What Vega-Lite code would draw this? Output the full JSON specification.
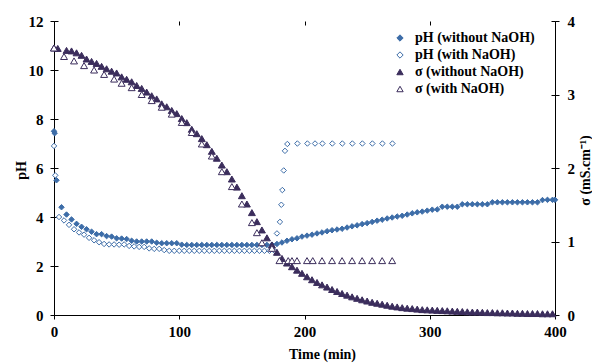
{
"$schema": "https://vega.github.io/schema/vega-lite/v6.json",
"width": 501, "height": 294,
"autosize": {"type": "none"},
"padding": {"left": 54, "top": 21, "right": 37, "bottom": 48},
"background": "white",
"config": {
 "view": {"stroke": null},
 "font": "Liberation Serif",
 "axis": {"grid": false, "domainColor": "#000000", "domainWidth": 1, "tickColor": "#000000", "tickSize": 4, "labelFont": "Liberation Serif", "labelFontWeight": "bold", "labelFontSize": 15, "labelColor": "#000000", "titleFont": "Liberation Serif", "titleFontWeight": "bold", "titleFontSize": 14, "titleColor": "#000000"},
 "legend": {"orient": "none", "legendX": 339, "legendY": 10, "padding": 0, "rowPadding": 3, "symbolSize": 40, "symbolStrokeWidth": 1, "labelOffset": 8, "labelFont": "Liberation Serif", "labelFontWeight": "bold", "labelFontSize": 14, "labelColor": "#000000"}
},
"data": {"values": [
{"s":"A","t":0,"v":7.5},{"s":"A","t":0.5,"v":7.42},{"s":"A","t":2,"v":5.5},{"s":"A","t":6,"v":4.4},{"s":"A","t":10,"v":4.1},{"s":"A","t":14,"v":3.9},{"s":"A","t":18,"v":3.72},{"s":"A","t":22,"v":3.6},{"s":"A","t":26,"v":3.5},{"s":"A","t":30,"v":3.4},{"s":"A","t":34,"v":3.3},{"s":"A","t":38,"v":3.3},{"s":"A","t":42,"v":3.22},{"s":"A","t":46,"v":3.2},{"s":"A","t":50,"v":3.13},{"s":"A","t":54,"v":3.12},{"s":"A","t":58,"v":3.1},{"s":"A","t":62,"v":3.03},{"s":"A","t":66,"v":3.0},{"s":"A","t":70,"v":3.0},{"s":"A","t":74,"v":3.0},{"s":"A","t":78,"v":3.0},{"s":"A","t":82,"v":2.95},{"s":"A","t":86,"v":2.93},{"s":"A","t":90,"v":2.93},{"s":"A","t":94,"v":2.93},{"s":"A","t":98,"v":2.93},{"s":"A","t":102,"v":2.87},{"s":"A","t":106,"v":2.86},{"s":"A","t":110,"v":2.86},{"s":"A","t":114,"v":2.86},{"s":"A","t":118,"v":2.86},{"s":"A","t":122,"v":2.86},{"s":"A","t":126,"v":2.86},{"s":"A","t":130,"v":2.86},{"s":"A","t":134,"v":2.86},{"s":"A","t":138,"v":2.86},{"s":"A","t":142,"v":2.86},{"s":"A","t":146,"v":2.86},{"s":"A","t":150,"v":2.86},{"s":"A","t":154,"v":2.86},{"s":"A","t":158,"v":2.86},{"s":"A","t":162,"v":2.86},{"s":"A","t":166,"v":2.86},{"s":"A","t":170,"v":2.86},{"s":"A","t":174,"v":2.87},{"s":"A","t":178,"v":2.9},{"s":"A","t":182,"v":2.96},{"s":"A","t":186,"v":3.03},{"s":"A","t":190,"v":3.09},{"s":"A","t":194,"v":3.13},{"s":"A","t":198,"v":3.2},{"s":"A","t":202,"v":3.24},{"s":"A","t":206,"v":3.28},{"s":"A","t":210,"v":3.33},{"s":"A","t":214,"v":3.37},{"s":"A","t":218,"v":3.42},{"s":"A","t":222,"v":3.46},{"s":"A","t":226,"v":3.49},{"s":"A","t":230,"v":3.52},{"s":"A","t":234,"v":3.57},{"s":"A","t":238,"v":3.62},{"s":"A","t":242,"v":3.66},{"s":"A","t":246,"v":3.71},{"s":"A","t":250,"v":3.75},{"s":"A","t":254,"v":3.8},{"s":"A","t":258,"v":3.85},{"s":"A","t":262,"v":3.89},{"s":"A","t":266,"v":3.94},{"s":"A","t":270,"v":3.98},{"s":"A","t":274,"v":4.02},{"s":"A","t":278,"v":4.05},{"s":"A","t":282,"v":4.1},{"s":"A","t":286,"v":4.15},{"s":"A","t":290,"v":4.19},{"s":"A","t":294,"v":4.22},{"s":"A","t":298,"v":4.26},{"s":"A","t":302,"v":4.3},{"s":"A","t":306,"v":4.31},{"s":"A","t":310,"v":4.42},{"s":"A","t":314,"v":4.42},{"s":"A","t":318,"v":4.42},{"s":"A","t":322,"v":4.42},{"s":"A","t":326,"v":4.52},{"s":"A","t":330,"v":4.52},{"s":"A","t":334,"v":4.52},{"s":"A","t":338,"v":4.52},{"s":"A","t":342,"v":4.52},{"s":"A","t":346,"v":4.52},{"s":"A","t":350,"v":4.6},{"s":"A","t":354,"v":4.6},{"s":"A","t":358,"v":4.6},{"s":"A","t":362,"v":4.6},{"s":"A","t":366,"v":4.6},{"s":"A","t":370,"v":4.6},{"s":"A","t":374,"v":4.6},{"s":"A","t":378,"v":4.6},{"s":"A","t":382,"v":4.6},{"s":"A","t":386,"v":4.6},{"s":"A","t":390,"v":4.69},{"s":"A","t":394,"v":4.7},{"s":"A","t":398,"v":4.7},{"s":"A","t":400,"v":4.7},
{"s":"B","t":0,"v":6.9},{"s":"B","t":1,"v":5.7},{"s":"B","t":4,"v":4.0},{"s":"B","t":8,"v":3.86},{"s":"B","t":12,"v":3.68},{"s":"B","t":16,"v":3.5},{"s":"B","t":20,"v":3.37},{"s":"B","t":24,"v":3.28},{"s":"B","t":28,"v":3.15},{"s":"B","t":32,"v":3.05},{"s":"B","t":36,"v":2.97},{"s":"B","t":40,"v":2.9},{"s":"B","t":44,"v":2.88},{"s":"B","t":48,"v":2.88},{"s":"B","t":52,"v":2.87},{"s":"B","t":56,"v":2.88},{"s":"B","t":60,"v":2.82},{"s":"B","t":64,"v":2.8},{"s":"B","t":68,"v":2.78},{"s":"B","t":72,"v":2.78},{"s":"B","t":76,"v":2.72},{"s":"B","t":80,"v":2.7},{"s":"B","t":84,"v":2.7},{"s":"B","t":88,"v":2.65},{"s":"B","t":92,"v":2.62},{"s":"B","t":96,"v":2.62},{"s":"B","t":100,"v":2.62},{"s":"B","t":104,"v":2.62},{"s":"B","t":108,"v":2.62},{"s":"B","t":112,"v":2.62},{"s":"B","t":116,"v":2.62},{"s":"B","t":120,"v":2.62},{"s":"B","t":124,"v":2.62},{"s":"B","t":128,"v":2.62},{"s":"B","t":132,"v":2.62},{"s":"B","t":136,"v":2.62},{"s":"B","t":140,"v":2.62},{"s":"B","t":144,"v":2.62},{"s":"B","t":148,"v":2.62},{"s":"B","t":152,"v":2.62},{"s":"B","t":156,"v":2.62},{"s":"B","t":160,"v":2.62},{"s":"B","t":164,"v":2.62},{"s":"B","t":168,"v":2.62},{"s":"B","t":172,"v":2.62},{"s":"B","t":176,"v":2.62},{"s":"B","t":178,"v":3.33},{"s":"B","t":180.4,"v":3.8},{"s":"B","t":181.5,"v":4.5},{"s":"B","t":182.3,"v":5.1},{"s":"B","t":183.4,"v":5.9},{"s":"B","t":184.4,"v":6.7},{"s":"B","t":186.3,"v":6.98},{"s":"B","t":194.3,"v":7.0},{"s":"B","t":202.3,"v":7.0},{"s":"B","t":208.4,"v":7.0},{"s":"B","t":214.3,"v":7.0},{"s":"B","t":222.2,"v":7.0},{"s":"B","t":230.2,"v":7.0},{"s":"B","t":238.2,"v":7.0},{"s":"B","t":246.2,"v":7.0},{"s":"B","t":254.2,"v":7.0},{"s":"B","t":262.2,"v":7.0},{"s":"B","t":270.2,"v":7.0},
{"s":"C","t":0,"v":3.633},{"s":"C","t":3,"v":3.627},{"s":"C","t":10,"v":3.6},{"s":"C","t":14,"v":3.593},{"s":"C","t":18,"v":3.567},{"s":"C","t":22,"v":3.533},{"s":"C","t":26,"v":3.483},{"s":"C","t":30,"v":3.45},{"s":"C","t":34,"v":3.423},{"s":"C","t":38,"v":3.383},{"s":"C","t":42,"v":3.35},{"s":"C","t":46,"v":3.317},{"s":"C","t":50,"v":3.293},{"s":"C","t":54,"v":3.24},{"s":"C","t":58,"v":3.207},{"s":"C","t":62,"v":3.173},{"s":"C","t":66,"v":3.123},{"s":"C","t":70,"v":3.083},{"s":"C","t":74,"v":3.033},{"s":"C","t":78,"v":2.983},{"s":"C","t":82,"v":2.94},{"s":"C","t":86,"v":2.873},{"s":"C","t":90,"v":2.833},{"s":"C","t":94,"v":2.783},{"s":"C","t":98,"v":2.74},{"s":"C","t":102,"v":2.673},{"s":"C","t":106,"v":2.617},{"s":"C","t":110,"v":2.527},{"s":"C","t":114,"v":2.467},{"s":"C","t":118,"v":2.4},{"s":"C","t":122,"v":2.317},{"s":"C","t":126,"v":2.227},{"s":"C","t":130,"v":2.133},{"s":"C","t":134,"v":2.04},{"s":"C","t":138,"v":1.95},{"s":"C","t":142,"v":1.85},{"s":"C","t":146,"v":1.74},{"s":"C","t":150,"v":1.623},{"s":"C","t":154,"v":1.51},{"s":"C","t":158,"v":1.393},{"s":"C","t":162,"v":1.27},{"s":"C","t":166,"v":1.157},{"s":"C","t":170,"v":1.05},{"s":"C","t":174,"v":0.953},{"s":"C","t":178,"v":0.853},{"s":"C","t":182,"v":0.77},{"s":"C","t":186,"v":0.707},{"s":"C","t":190,"v":0.657},{"s":"C","t":194,"v":0.61},{"s":"C","t":198,"v":0.567},{"s":"C","t":202,"v":0.52},{"s":"C","t":206,"v":0.48},{"s":"C","t":210,"v":0.443},{"s":"C","t":214,"v":0.41},{"s":"C","t":218,"v":0.38},{"s":"C","t":222,"v":0.347},{"s":"C","t":226,"v":0.32},{"s":"C","t":230,"v":0.293},{"s":"C","t":234,"v":0.27},{"s":"C","t":238,"v":0.247},{"s":"C","t":242,"v":0.227},{"s":"C","t":246,"v":0.207},{"s":"C","t":250,"v":0.19},{"s":"C","t":254,"v":0.173},{"s":"C","t":258,"v":0.16},{"s":"C","t":262,"v":0.147},{"s":"C","t":266,"v":0.133},{"s":"C","t":270,"v":0.12},{"s":"C","t":274,"v":0.11},{"s":"C","t":278,"v":0.1},{"s":"C","t":282,"v":0.093},{"s":"C","t":286,"v":0.087},{"s":"C","t":290,"v":0.08},{"s":"C","t":294,"v":0.073},{"s":"C","t":298,"v":0.07},{"s":"C","t":302,"v":0.067},{"s":"C","t":306,"v":0.063},{"s":"C","t":310,"v":0.06},{"s":"C","t":314,"v":0.057},{"s":"C","t":318,"v":0.053},{"s":"C","t":322,"v":0.05},{"s":"C","t":326,"v":0.047},{"s":"C","t":330,"v":0.043},{"s":"C","t":334,"v":0.04},{"s":"C","t":338,"v":0.04},{"s":"C","t":342,"v":0.037},{"s":"C","t":346,"v":0.033},{"s":"C","t":350,"v":0.033},{"s":"C","t":354,"v":0.03},{"s":"C","t":358,"v":0.03},{"s":"C","t":362,"v":0.027},{"s":"C","t":366,"v":0.027},{"s":"C","t":370,"v":0.023},{"s":"C","t":374,"v":0.023},{"s":"C","t":378,"v":0.02},{"s":"C","t":382,"v":0.02},{"s":"C","t":386,"v":0.02},{"s":"C","t":390,"v":0.017},{"s":"C","t":394,"v":0.017},{"s":"C","t":398,"v":0.017},
{"s":"D","t":0,"v":3.633},{"s":"D","t":8,"v":3.517},{"s":"D","t":16,"v":3.457},{"s":"D","t":24,"v":3.393},{"s":"D","t":32,"v":3.333},{"s":"D","t":40,"v":3.273},{"s":"D","t":48,"v":3.21},{"s":"D","t":54,"v":3.153},{"s":"D","t":62,"v":3.093},{"s":"D","t":70,"v":3.0},{"s":"D","t":78,"v":2.917},{"s":"D","t":86,"v":2.827},{"s":"D","t":94,"v":2.733},{"s":"D","t":102,"v":2.62},{"s":"D","t":110,"v":2.483},{"s":"D","t":118,"v":2.327},{"s":"D","t":126,"v":2.163},{"s":"D","t":134,"v":1.95},{"s":"D","t":142,"v":1.747},{"s":"D","t":150,"v":1.51},{"s":"D","t":158,"v":1.257},{"s":"D","t":162,"v":1.12},{"s":"D","t":166,"v":0.983},{"s":"D","t":174,"v":0.907},{"s":"D","t":180,"v":0.74},{"s":"D","t":187,"v":0.74},{"s":"D","t":190,"v":0.74},{"s":"D","t":194,"v":0.74},{"s":"D","t":202,"v":0.74},{"s":"D","t":206.6,"v":0.74},{"s":"D","t":214,"v":0.74},{"s":"D","t":222,"v":0.74},{"s":"D","t":230,"v":0.74},{"s":"D","t":238,"v":0.74},{"s":"D","t":246,"v":0.74},{"s":"D","t":254,"v":0.74},{"s":"D","t":262,"v":0.74},{"s":"D","t":270,"v":0.74}
]},
"layer": [
 {
  "transform": [{"filter": "datum.s == 'A' || datum.s == 'B'"}],
  "mark": {"type": "point", "size": 30, "strokeWidth": 1, "opacity": 1, "clip": false},
  "encoding": {
   "x": {"field": "t", "type": "quantitative", "scale": {"domain": [0, 400], "nice": false}, "axis": {"values": [0, 100, 200, 300, 400], "title": "Time (min)", "labelPadding": 5, "titleX": 268, "titleY": 43, "titleAlign": "center", "titleBaseline": "alphabetic", "labelFlush": false}},
   "y": {"field": "v", "type": "quantitative", "scale": {"domain": [0, 12], "nice": false}, "axis": {"orient": "left", "values": [0, 2, 4, 6, 8, 10, 12], "title": "pH", "labelPadding": 7, "titleAngle": 270, "titleX": -28.5, "titleY": 149, "titleAlign": "center", "titleBaseline": "alphabetic"}},
   "shape": {"field": "s", "type": "nominal", "scale": {"domain": ["A", "B", "C", "D"], "range": ["diamond", "diamond", "triangle-up", "triangle-up"]}, "legend": {"title": null, "labelExpr": "datum.label == 'A' ? 'pH (without NaOH)' : datum.label == 'B' ? 'pH (with NaOH)' : datum.label == 'C' ? 'σ (without NaOH)' : 'σ (with NaOH)'"}},
   "fill": {"field": "s", "type": "nominal", "scale": {"domain": ["A", "B", "C", "D"], "range": ["#3D6DA8", "#ffffff", "#3B2D5C", "#ffffff"]}, "legend": {"title": null, "labelExpr": "datum.label == 'A' ? 'pH (without NaOH)' : datum.label == 'B' ? 'pH (with NaOH)' : datum.label == 'C' ? 'σ (without NaOH)' : 'σ (with NaOH)'"}},
   "stroke": {"field": "s", "type": "nominal", "scale": {"domain": ["A", "B", "C", "D"], "range": ["#3D6DA8", "#3D6DA8", "#3B2D5C", "#3B2D5C"]}, "legend": {"title": null, "labelExpr": "datum.label == 'A' ? 'pH (without NaOH)' : datum.label == 'B' ? 'pH (with NaOH)' : datum.label == 'C' ? 'σ (without NaOH)' : 'σ (with NaOH)'"}}
  }
 },
 {
  "transform": [{"filter": "datum.s == 'C' || datum.s == 'D'"}],
  "mark": {"type": "point", "size": 48, "strokeWidth": 1, "opacity": 1, "clip": false},
  "encoding": {
   "x": {"field": "t", "type": "quantitative", "scale": {"domain": [0, 400], "nice": false}, "axis": {"values": [0, 100, 200, 300, 400], "title": null, "labels": false, "domain": false, "tickSize": -4}},
   "y": {"field": "v", "type": "quantitative", "scale": {"domain": [0, 4], "nice": false}, "axis": {"orient": "right", "values": [0, 1, 2, 3, 4], "title": "σ (mS.cm⁻¹)", "labelPadding": 8, "titleAngle": 270, "titleX": 34, "titleY": 149, "titleAlign": "center", "titleBaseline": "alphabetic"}},
   "shape": {"field": "s", "type": "nominal", "scale": {"domain": ["A", "B", "C", "D"], "range": ["diamond", "diamond", "triangle-up", "triangle-up"]}, "legend": {"title": null, "labelExpr": "datum.label == 'A' ? 'pH (without NaOH)' : datum.label == 'B' ? 'pH (with NaOH)' : datum.label == 'C' ? 'σ (without NaOH)' : 'σ (with NaOH)'"}},
   "fill": {"field": "s", "type": "nominal", "scale": {"domain": ["A", "B", "C", "D"], "range": ["#3D6DA8", "#ffffff", "#3B2D5C", "#ffffff"]}, "legend": {"title": null, "labelExpr": "datum.label == 'A' ? 'pH (without NaOH)' : datum.label == 'B' ? 'pH (with NaOH)' : datum.label == 'C' ? 'σ (without NaOH)' : 'σ (with NaOH)'"}},
   "stroke": {"field": "s", "type": "nominal", "scale": {"domain": ["A", "B", "C", "D"], "range": ["#3D6DA8", "#3D6DA8", "#3B2D5C", "#3B2D5C"]}, "legend": {"title": null, "labelExpr": "datum.label == 'A' ? 'pH (without NaOH)' : datum.label == 'B' ? 'pH (with NaOH)' : datum.label == 'C' ? 'σ (without NaOH)' : 'σ (with NaOH)'"}}
  }
 },
 {
  "data": {"values": [{"v": 0}]},
  "mark": {"type": "point", "opacity": 0},
  "encoding": {
   "y": {"field": "v", "type": "quantitative", "scale": {"domain": [0, 12], "nice": false}, "axis": {"orient": "left", "values": [0, 2, 4, 6, 8, 10, 12], "title": null, "labels": false, "domain": false, "tickSize": -4}}
  }
 },
 {
  "data": {"values": [{"v": 0}]},
  "mark": {"type": "point", "opacity": 0},
  "encoding": {
   "y": {"field": "v", "type": "quantitative", "scale": {"domain": [0, 4], "nice": false}, "axis": {"orient": "right", "values": [0, 1, 2, 3, 4], "title": null, "labels": false, "domain": false, "tickSize": -4}}
  }
 }
],
"resolve": {"scale": {"y": "independent"}, "axis": {"x": "independent"}}
}
